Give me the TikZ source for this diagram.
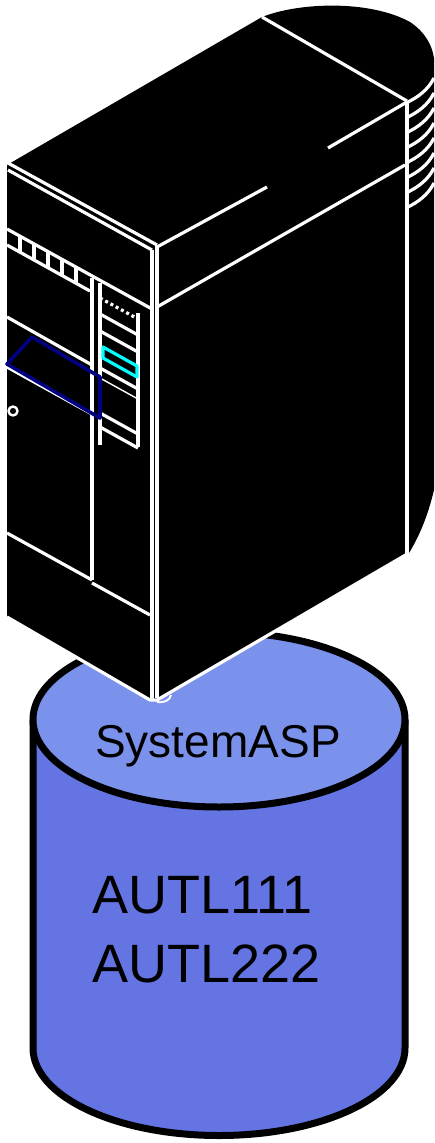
\documentclass[tikz,border=0pt]{standalone}
\usepackage{fontspec}
\setmainfont{Liberation Sans}
\definecolor{asptop}{HTML}{7B92EC}
\definecolor{aspbody}{HTML}{6475E3}
\definecolor{bezel}{HTML}{000080}
\definecolor{drivelight}{HTML}{00FFFF}
\tikzset{
  edge/.style={white,line width=3.2pt},
  thinedge/.style={white,line width=1.4pt},
}

\begin{document}
\begin{tikzpicture}[x=1pt,y=-1pt,line join=round]
    \useasboundingbox (0,0) rectangle (434,1143);

    % draw cylinder body
    \fill[aspbody] (33,719.5) rectangle (405,1048);
    \fill[aspbody] (219,1048) ellipse [x radius=186,y radius=87.5];
    \draw[line width=7pt] (33,719.5) -- (33,1048)
      arc [start angle=180,end angle=0,x radius=186,y radius=87.5] -- (405,719.5);

    % draw cylinder top
    \filldraw[fill=asptop,line width=7pt] (219,719.5) ellipse [x radius=186,y radius=87.5];

    % draw server body
    \fill[black] (7,165) -- (262,17) .. controls (300,2) and (370,0) .. (410,22)
      .. controls (425,32) and (432,45) .. (434,58) -- (434,490)
      .. controls (428,515) and (420,535) .. (409,553) -- (157,700) -- (150,700) -- (7,617) -- cycle;
    \draw[edge] (7,617) -- (150,700) -- (157,700) -- (409,553);

    % draw top face edges
    \draw[edge] (8,163) -- (157,245);
    \draw[edge] (8,170) -- (152,250);
    \draw[edge] (262,17) -- (407,101);
    \draw[edge] (157,247) -- (267,187);
    \draw[edge] (328,148) -- (407,102);

    % draw front corner
    \draw[edge] (157,245) -- (157,698);
    \draw[edge] (152,250) -- (152,700);

    % draw right face
    \draw[edge] (157,307) -- (405,165);
    \draw[edge] (407,101) -- (407,553);
    \foreach \y in {102,117,...,207}
      \draw[edge] (408,\y) .. controls (418,\y-5) and (428,\y-12) .. (434,\y-24);

    % draw front panel lines
    \draw[edge] (7,229) -- (152,309);
    \draw[edge] (7,245) -- (90,291);
    \foreach \x in {20,34,48,62,76}
      \draw[edge] (\x,{229+0.55*(\x-7)}) -- (\x,{245+0.55*(\x-7)});
    \draw[edge] (7,317) -- (92,365);
    \draw[edge] (7,367) -- (92,414);
    \draw[edge] (7,533) -- (92,580);
    \draw[edge] (92,583) -- (150,615);
    \draw[edge] (92,278) -- (92,580);

    % draw drive bays
    \draw[edge] (100,283) -- (100,445);
    \draw[edge] (138,313) -- (138,447);
    \draw[edge,dash pattern=on 3pt off 3pt] (100,298) -- (138,319);
    \foreach \y in {314,331,368,413,427}
      \draw[edge] (100,\y) -- (138,\y+21);
    \draw[thinedge] (100,378) -- (138,399);
    \draw[drivelight,line width=3.2pt] (103,347) -- (137,366) -- (137,377) -- (103,358) -- cycle;

    % draw bezel, lock and feet
    \draw[bezel,line width=3.6pt] (32,337) -- (100,377) -- (100,418) -- (7,364) -- cycle;
    \draw[white,line width=2.4pt] (13,411) circle (4.5);
    \draw[white,line width=1.8pt] (350,590) .. controls (354,586) .. (360,584);
    \draw[white,line width=1.8pt] (157,702) .. controls (165,703) and (170,700) .. (171,695);

    % draw labels
    \node[font=\fontsize{46}{54}\selectfont,anchor=base,inner sep=0pt] (sysasp) at (218,757) {SystemASP};
    \node[font=\fontsize{54}{62}\selectfont,anchor=base west,inner sep=0pt] (autla) at (92,913) {AUTL111};
    \node[font=\fontsize{54}{62}\selectfont,anchor=base west,inner sep=0pt] (autlb) at (92,982) {AUTL222};

  \end{tikzpicture}
\end{document}
